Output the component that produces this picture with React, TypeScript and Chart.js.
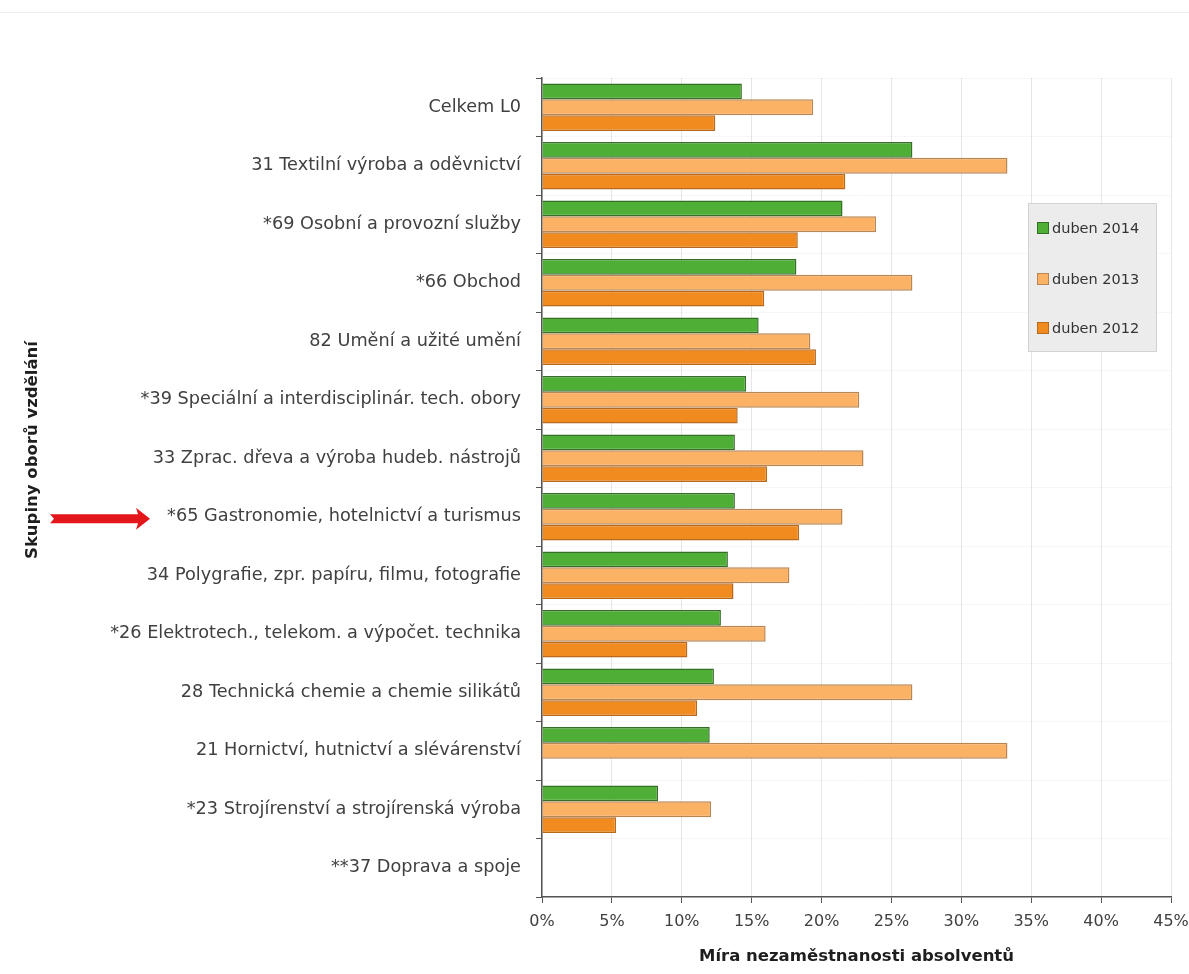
import { useEffect, useRef } from "react";
import { Chart, registerables } from "chart.js";

Chart.register(...registerables);

// Skupiny oborů vzdělání (shora dolů)
const categories = [
  "Celkem L0",
  "31 Textilní výroba a oděvnictví",
  "*69 Osobní a provozní služby",
  "*66 Obchod",
  "82 Umění a užité umění",
  "*39 Speciální a interdisciplinár. tech. obory",
  "33 Zprac. dřeva a výroba hudeb. nástrojů",
  "*65 Gastronomie, hotelnictví a turismus",
  "34 Polygrafie, zpr. papíru, filmu, fotografie",
  "*26 Elektrotech., telekom. a výpočet. technika",
  "28 Technická chemie a chemie silikátů",
  "21 Hornictví, hutnictví a slévárenství",
  "*23 Strojírenství a strojírenská výroba",
  "**37 Doprava a spoje",
];

const seriesLabels = ["duben 2014", "duben 2013", "duben 2012"];

// Míra nezaměstnanosti absolventů v %
const values2014 = [14.3, 26.5, 21.5, 18.2, 15.5, 14.6, 13.8, 13.8, 13.3, 12.8, 12.3, 12.0, 8.3, null];
const values2013 = [19.4, 33.3, 23.9, 26.5, 19.2, 22.7, 23.0, 21.5, 17.7, 16.0, 26.5, 33.3, 12.1, null];
const values2012 = [12.4, 21.7, 18.3, 15.9, 19.6, 14.0, 16.1, 18.4, 13.7, 10.4, 11.1, null, 5.3, null];

const xMin = 0;
const xMax = 45;
const xStep = 5;

const highlightedCategory = "*65 Gastronomie, hotelnictví a turismus";
const xTitle = "Míra nezaměstnanosti absolventů";
const yTitle = "Skupiny oborů vzdělání";

const FONT = "'DejaVu Sans', 'Noto Sans', sans-serif";

// Legend box, vertical axis title and the red pointer arrow
const decorations = {
  id: "decorations",
  afterDraw(chart: any) {
    const ctx = chart.ctx as CanvasRenderingContext2D;
    const yScale = chart.scales.y;

    // legend
    const bx = 1028, by = 203, bw = 129, bh = 149;
    ctx.save();
    ctx.fillStyle = "#ececec";
    ctx.strokeStyle = "#d2d2d2";
    ctx.lineWidth = 1;
    ctx.fillRect(bx, by, bw, bh);
    ctx.strokeRect(bx + 0.5, by + 0.5, bw - 1, bh - 1);
    const rowY = [228, 279, 328];
    chart.data.datasets.forEach((ds: any, i: number) => {
      const cy = rowY[i];
      ctx.fillStyle = ds.backgroundColor;
      ctx.fillRect(1037, cy - 6, 12, 12);
      ctx.strokeStyle = ds.borderColor;
      ctx.strokeRect(1037.5, cy - 5.5, 11, 11);
      ctx.fillStyle = "#333";
      ctx.font = `14.5px ${FONT}`;
      ctx.textAlign = "left";
      ctx.textBaseline = "middle";
      ctx.fillText(ds.label, 1052, cy + 1);
    });
    ctx.restore();

    // vertical axis title
    ctx.save();
    ctx.translate(33, 450);
    ctx.rotate(-Math.PI / 2);
    ctx.font = `bold 16.5px ${FONT}`;
    ctx.fillStyle = "#1e1e1e";
    ctx.textAlign = "center";
    ctx.textBaseline = "middle";
    ctx.fillText(yTitle, 0, 0);
    ctx.restore();

    // arrow pointing at the highlighted group
    const idx = categories.indexOf(highlightedCategory);
    const y = yScale.getPixelForValue(idx) + 2;
    ctx.save();
    ctx.fillStyle = "#e3161b";
    ctx.beginPath();
    ctx.moveTo(50, y - 4.5);
    ctx.lineTo(138, y - 4.5);
    ctx.lineTo(136, y - 11);
    ctx.lineTo(150, y);
    ctx.lineTo(136, y + 11);
    ctx.lineTo(138, y + 4.5);
    ctx.lineTo(50, y + 4.5);
    ctx.lineTo(54, y);
    ctx.closePath();
    ctx.fill();
    ctx.restore();
  },
};

export default function App() {
  const canvasRef = useRef<HTMLCanvasElement | null>(null);

  useEffect(() => {
    if (!canvasRef.current) return;
    const chart = new Chart(canvasRef.current, {
      type: "bar",
      data: {
        labels: categories,
        datasets: [
          {
            label: seriesLabels[0],
            data: values2014,
            backgroundColor: "#4fae36",
            borderColor: "#356f26",
            borderWidth: 1.5,
          },
          {
            label: seriesLabels[1],
            data: values2013,
            backgroundColor: "#fbb264",
            borderColor: "#b98653",
            borderWidth: 1.5,
          },
          {
            label: seriesLabels[2],
            data: values2012,
            backgroundColor: "#f18a1f",
            borderColor: "#b8691e",
            borderWidth: 1.5,
          },
        ],
      },
      options: {
        indexAxis: "y",
        responsive: false,
        animation: false,
        layout: { padding: { top: 78, right: 18, bottom: 0, left: 0 } },
        datasets: {
          bar: { categoryPercentage: 0.81, barPercentage: 1.0 },
        },
        plugins: {
          legend: { display: false },
          tooltip: { enabled: false },
        },
        scales: {
          x: {
            type: "linear",
            min: xMin,
            max: xMax,
            ticks: {
              stepSize: xStep,
              padding: 9,
              color: "#404040",
              font: { family: FONT, size: 16 },
              callback: (v: any) => `${v}%`,
            },
            grid: { color: "#e6e6e6", tickColor: "#555", tickLength: 6 },
            border: { color: "#555", width: 1.5 },
            title: {
              display: true,
              text: xTitle,
              color: "#1e1e1e",
              font: { family: FONT, size: 16.5, weight: "bold" },
              padding: { top: 0, bottom: 7 },
            },
            afterFit: (scale: any) => {
              scale.height = 77;
              scale.paddingLeft = 0;
              scale.paddingRight = 0;
            },
          },
          y: {
            type: "category",
            ticks: {
              padding: 15,
              color: "#404040",
              font: { family: FONT, size: 17.7 },
              autoSkip: false,
            },
            grid: {
              offset: true,
              color: "rgba(0,0,0,0.03)",
              tickColor: "#555",
              tickLength: 6,
            },
            border: { color: "#555", width: 1.5 },
            afterFit: (scale: any) => {
              scale.width = 542;
              scale.paddingTop = 0;
              scale.paddingBottom = 0;
            },
          },
        },
      } as any,
      plugins: [decorations],
    });
    return () => chart.destroy();
  }, []);

  return (
    <div
      style={{
        position: "absolute",
        left: 0,
        top: 0,
        width: 1189,
        height: 974,
        background: "#fff",
        overflow: "hidden",
      }}
    >
      <div
        style={{
          position: "absolute",
          left: 0,
          top: 12,
          width: 1189,
          height: 0,
          borderTop: "1px solid #eeeeee",
        }}
      />
      <canvas ref={canvasRef} width={1189} height={974} style={{ display: "block" }} />
    </div>
  );
}
